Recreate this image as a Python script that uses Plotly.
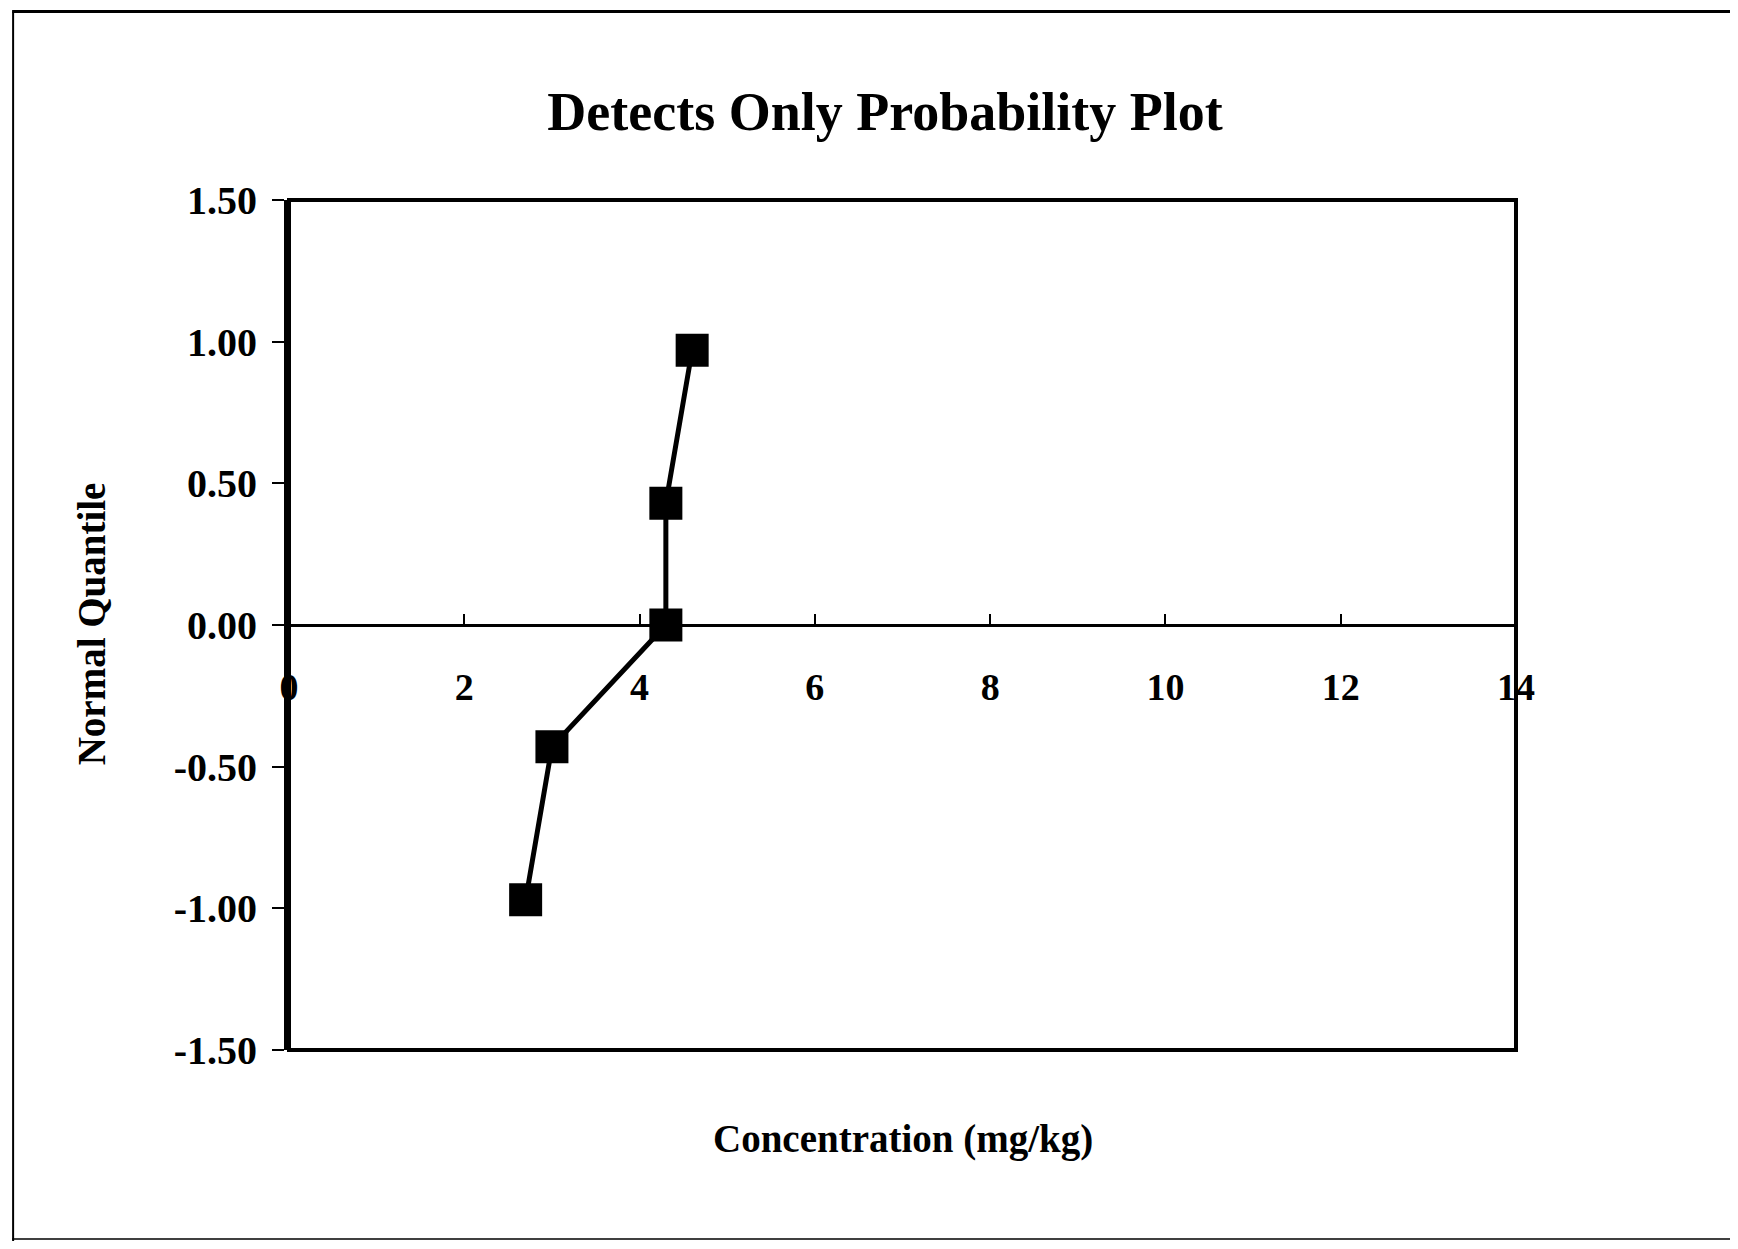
import plotly.graph_objects as go

# Data
concentration = [2.7, 3.0, 4.3, 4.3, 4.6]
normal_quantile = [-0.97, -0.43, 0.0, 0.43, 0.97]

x_ticks = [0, 2, 4, 6, 8, 10, 12, 14]
y_ticks = [-1.5, -1.0, -0.5, 0.0, 0.5, 1.0, 1.5]
y_tick_labels = ["-1.50", "-1.00", "-0.50", "0.00", "0.50", "1.00", "1.50"]

title_text = "Detects Only Probability Plot"
x_title = "Concentration (mg/kg)"
y_title = "Normal Quantile"

# page body has an 8px margin: work in page pixels, convert to figure pixels
OFF = 8
W, H = 1738 - 2 * OFF, 1249 - 2 * OFF
L, R, T, B = 289 - OFF, 1516.5 - OFF, 199.5 - OFF, 1050 - OFF

FONT = "Liberation Serif, Times New Roman, serif"

fig = go.Figure()
fig.add_trace(go.Scatter(
    x=concentration, y=normal_quantile,
    mode="lines+markers",
    line=dict(color="black", width=5),
    marker=dict(symbol="square", size=33, color="black"),
    showlegend=False,
))

def px_x(p):
    # p in page pixels
    return (p - OFF - L) / (R - L)

def px_y(p):
    return (B - (p - OFF)) / (B - T)

fig.update_layout(
    width=W, height=H,
    margin=dict(l=L, r=W - R, t=T, b=H - B, pad=0),
    paper_bgcolor="white", plot_bgcolor="white",
    font=dict(family=FONT, color="black"),
    title=dict(
        text="<b>" + title_text + "</b>",
        x=(885 - OFF) / W, xanchor="center",
        y=1 - (111 - OFF) / H, yanchor="middle",
        font=dict(size=54, family=FONT, color="black"),
    ),
    xaxis=dict(
        range=[0, 14], tickvals=x_ticks,
        ticktext=["<b>%d</b>" % v for v in x_ticks],
        anchor="free", position=0.5,
        showline=True, linecolor="black", linewidth=3,
        ticks="inside", ticklen=10, tickwidth=2, tickcolor="black",
        showgrid=False, zeroline=False,
        tickfont=dict(size=38, family=FONT, color="black"),
        ticklabelstandoff=27,
    ),
    yaxis=dict(
        range=[-1.5, 1.5], tickvals=y_ticks,
        ticktext=["<b>" + t + "</b>" for t in y_tick_labels],
        showline=True, linecolor="black", linewidth=5,
        ticks="outside", ticklen=12, tickwidth=2, tickcolor="black",
        showgrid=False, zeroline=False,
        tickfont=dict(size=40, family=FONT, color="black"),
        ticklabelstandoff=7,
    ),
    annotations=[
        dict(text="<b>" + x_title + "</b>", xref="paper", yref="paper",
             x=px_x(903), y=px_y(1139), xanchor="center", yanchor="middle",
             showarrow=False, font=dict(size=39, family=FONT, color="black")),
        dict(text="<b>" + y_title + "</b>", xref="paper", yref="paper",
             x=px_x(91), y=px_y(624), xanchor="center", yanchor="middle",
             textangle=-90,
             showarrow=False, font=dict(size=39, family=FONT, color="black")),
    ],
    shapes=[
        # plot area box
        dict(type="rect", xref="paper", yref="paper", x0=0, x1=1, y0=0, y1=1,
             line=dict(color="black", width=4), layer="above"),
        # outer frame (partially visible in the scan)
        dict(type="line", xref="paper", yref="paper",
             x0=px_x(12), x1=px_x(1760), y0=px_y(11), y1=px_y(11),
             line=dict(color="black", width=3)),
        dict(type="line", xref="paper", yref="paper",
             x0=px_x(13), x1=px_x(13), y0=px_y(11), y1=px_y(1260),
             line=dict(color="black", width=2)),
        dict(type="line", xref="paper", yref="paper",
             x0=px_x(12), x1=px_x(1760), y0=px_y(1239), y1=px_y(1239),
             line=dict(color="black", width=1.5)),
    ],
)

fig.write_html("out.html")
